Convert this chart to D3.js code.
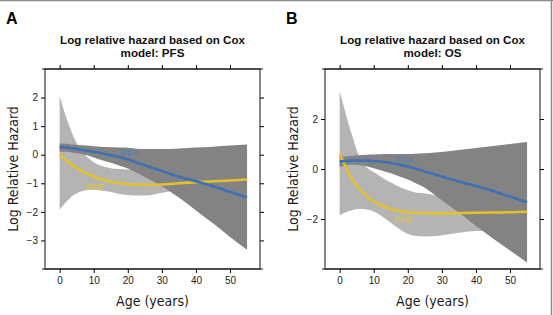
<!DOCTYPE html>
<html>
<head>
<meta charset="utf-8">
<script src="https://cdn.jsdelivr.net/npm/d3@7"></script>
<style>
  body { margin: 0; background: #fff; }
  svg { display: block; }
  .tick text { font-family: "Liberation Sans", Arial, sans-serif; font-size: 10px; fill: #222; }
</style>
</head>
<body>
<svg id="chart" width="553" height="315"></svg>
<script>
const ages = [0, 1, 2, 3, 4, 5, 6, 7, 8, 10, 12, 14, 16, 18, 20, 22, 25, 28, 30, 35, 40, 45, 50, 55];

// panel A: PFS
const pfaA   = [0.27, 0.26, 0.25, 0.23, 0.22, 0.2, 0.18, 0.16, 0.14, 0.1, 0.06, 0.01, -0.04, -0.1, -0.17, -0.25, -0.37, -0.49, -0.57, -0.77, -0.93, -1.1, -1.3, -1.5];
const pfaHiA = [0.4, 0.39, 0.38, 0.37, 0.36, 0.35, 0.34, 0.33, 0.32, 0.3, 0.28, 0.27, 0.26, 0.25, 0.24, 0.22, 0.2, 0.2, 0.2, 0.22, 0.25, 0.28, 0.32, 0.36];
const pfaLoA = [0.1, 0.1, 0.1, 0.09, 0.07, 0.05, 0.03, 0.01, -0.02, -0.1, -0.18, -0.25, -0.32, -0.4, -0.48, -0.6, -0.78, -0.97, -1.1, -1.5, -1.95, -2.4, -2.88, -3.33];
const pfbA   = [0.02, -0.1, -0.2, -0.3, -0.39, -0.47, -0.54, -0.61, -0.66, -0.76, -0.85, -0.92, -0.97, -1.0, -1.03, -1.04, -1.05, -1.05, -1.04, -1.0, -0.96, -0.93, -0.9, -0.87];
const pfbHiA = [2.05, 1.65, 1.28, 0.95, 0.65, 0.4, 0.2, 0.04, -0.08, -0.26, -0.38, -0.45, -0.49, -0.5, -0.52, -0.56, -0.6, -0.63, -0.65, -0.65, -0.6, -0.55, -0.48, -0.4];
const pfbLoA = [-1.93, -1.78, -1.64, -1.52, -1.42, -1.35, -1.3, -1.26, -1.24, -1.23, -1.25, -1.28, -1.33, -1.38, -1.41, -1.43, -1.43, -1.38, -1.33, -1.25, -1.2, -1.18, -1.18, -1.2];

// panel B: OS
const pfaB   = [0.3, 0.31, 0.32, 0.33, 0.34, 0.34, 0.34, 0.34, 0.33, 0.32, 0.3, 0.27, 0.22, 0.16, 0.1, 0.02, -0.1, -0.22, -0.3, -0.5, -0.68, -0.88, -1.1, -1.33];
const pfaHiB = [0.5, 0.5, 0.51, 0.52, 0.53, 0.54, 0.55, 0.56, 0.57, 0.58, 0.59, 0.6, 0.6, 0.6, 0.6, 0.61, 0.63, 0.66, 0.68, 0.76, 0.84, 0.92, 1.0, 1.08];
const pfaLoB = [0.08, 0.12, 0.15, 0.17, 0.17, 0.17, 0.15, 0.13, 0.1, 0.03, -0.05, -0.13, -0.22, -0.32, -0.42, -0.55, -0.75, -1.05, -1.25, -1.75, -2.28, -2.78, -3.26, -3.74];
const pfbB   = [0.6, 0.3, 0.0, -0.25, -0.46, -0.65, -0.83, -0.98, -1.1, -1.3, -1.44, -1.55, -1.63, -1.69, -1.73, -1.75, -1.76, -1.77, -1.77, -1.76, -1.75, -1.74, -1.73, -1.71];
const pfbHiB = [3.13, 2.6, 2.1, 1.62, 1.2, 0.75, 0.45, 0.2, 0.05, -0.12, -0.3, -0.47, -0.61, -0.74, -0.85, -0.93, -0.98, -1.05, -1.1, -1.25, -1.35, -1.4, -1.42, -1.4];
const pfbLoB = [-1.85, -1.78, -1.72, -1.67, -1.63, -1.6, -1.6, -1.6, -1.62, -1.7, -1.85, -2.05, -2.25, -2.45, -2.6, -2.67, -2.7, -2.68, -2.65, -2.55, -2.48, -2.5, -2.6, -2.75];

const xTicks = [0, 10, 20, 30, 40, 50];
const yTicksA = [-3, -2, -1, 0, 1, 2];
const yTicksB = [-2, 0, 2];

const panels = [
  { letter: "A", sub: "model: PFS", left: 45, yDomain: [-4, 3], yTicks: yTicksA,
    pfa: pfaA, pfaHi: pfaHiA, pfaLo: pfaLoA, pfb: pfbA, pfbHi: pfbHiA, pfbLo: pfbLoA,
    pfaLab: [20.6, -0.05], pfbLab: [10.3, -1.23] },
  { letter: "B", sub: "model: OS", left: 325, yDomain: [-4, 4], yTicks: yTicksB,
    pfa: pfaB, pfaHi: pfaHiB, pfaLo: pfaLoB, pfb: pfbB, pfbHi: pfbHiB, pfbLo: pfbLoB,
    pfaLab: [19.2, 0.24], pfbLab: [18.6, -2.16] }
];

const svg = d3.select("#chart");
const narrow = '"Liberation Sans Narrow", "DejaVu Sans Condensed", Arial, sans-serif';

// figure frame, only top and right edges show
svg.append("line").attr("x1", 0).attr("x2", 553).attr("y1", 0.5).attr("y2", 0.5)
  .attr("stroke", "#8a8a8a").attr("stroke-width", 1.5);
svg.append("line").attr("x1", 551.5).attr("x2", 551.5).attr("y1", 0).attr("y2", 315)
  .attr("stroke", "#8a8a8a").attr("stroke-width", 1.5);

const boxW = 215, boxTop = 69, boxBottom = 269;

panels.forEach(p => {
  const x = d3.scaleLinear().domain([-4.3, 58.8]).range([p.left, p.left + boxW]);
  const y = d3.scaleLinear().domain(p.yDomain).range([boxBottom, boxTop]);
  const g = svg.append("g");
  const cx = p.left + boxW / 2;

  g.append("text").attr("x", p.left - 39).attr("y", 24)
    .attr("font-family", "Liberation Sans, Arial, sans-serif")
    .attr("font-weight", "bold").attr("font-size", 16).text(p.letter);

  const title = g.append("text").attr("text-anchor", "middle")
    .attr("font-family", "Liberation Sans, Arial, sans-serif")
    .attr("font-weight", "bold").attr("font-size", 11.6).attr("fill", "#111");
  title.append("tspan").attr("x", cx).attr("y", 44).text("Log relative hazard based on Cox");
  title.append("tspan").attr("x", cx).attr("y", 57).text(p.sub);

  const band = (hi, lo) => d3.area()
    .x((d, i) => x(ages[i]))
    .y0((d, i) => y(lo[i]))
    .y1((d, i) => y(hi[i]))
    .curve(d3.curveMonotoneX)(ages);
  const line = vals => d3.line()
    .x((d, i) => x(ages[i]))
    .y((d, i) => y(vals[i]))
    .curve(d3.curveMonotoneX)(ages);

  g.append("path").attr("d", band(p.pfbHi, p.pfbLo)).attr("fill", "#b4b4b4");
  g.append("path").attr("d", band(p.pfaHi, p.pfaLo)).attr("fill", "#838383");

  g.append("path").attr("d", line(p.pfb)).attr("fill", "none")
    .attr("stroke", "#e3c12c").attr("stroke-width", 2.6);
  g.append("path").attr("d", line(p.pfa)).attr("fill", "none")
    .attr("stroke", "#3d70b5").attr("stroke-width", 2.6);

  g.append("text").attr("x", x(p.pfaLab[0])).attr("y", y(p.pfaLab[1]))
    .attr("text-anchor", "middle").attr("font-family", "Liberation Sans, Arial, sans-serif")
    .attr("font-size", 9).attr("fill", "#4a7cc0").text("PFA");
  g.append("text").attr("x", x(p.pfbLab[0])).attr("y", y(p.pfbLab[1]))
    .attr("text-anchor", "middle").attr("font-family", "Liberation Sans, Arial, sans-serif")
    .attr("font-size", 9).attr("fill", "#e0c340").text("PFB");

  // axes on all four sides, ticks pointing out
  const fmt = d => String(d).replace("-", "\u2212");
  g.append("g").attr("transform", `translate(0,${boxBottom})`)
    .call(d3.axisBottom(x).tickValues(xTicks).tickSize(4).tickSizeOuter(0).tickPadding(4).tickFormat(fmt))
    .call(a => a.select(".domain").remove());
  g.append("g").attr("transform", `translate(0,${boxTop})`)
    .call(d3.axisTop(x).tickValues(xTicks).tickSize(4).tickSizeOuter(0).tickFormat(""))
    .call(a => a.select(".domain").remove());
  g.append("g").attr("transform", `translate(${p.left},0)`)
    .call(d3.axisLeft(y).tickValues(p.yTicks).tickSize(4).tickSizeOuter(0).tickPadding(3).tickFormat(fmt))
    .call(a => a.select(".domain").remove());
  g.append("g").attr("transform", `translate(${p.left + boxW},0)`)
    .call(d3.axisRight(y).tickValues(p.yTicks).tickSize(4).tickSizeOuter(0).tickFormat(""))
    .call(a => a.select(".domain").remove());

  g.append("rect").attr("x", p.left).attr("y", boxTop).attr("width", boxW).attr("height", boxBottom - boxTop)
    .attr("fill", "none").attr("stroke", "#111").attr("stroke-width", 1);
  g.append("line").attr("x1", p.left - 3).attr("x2", p.left + boxW + 3)
    .attr("y1", boxBottom).attr("y2", boxBottom).attr("stroke", "#111");
  g.append("line").attr("x1", p.left - 3).attr("x2", p.left + boxW + 3)
    .attr("y1", boxTop).attr("y2", boxTop).attr("stroke", "#111");

  g.append("text").attr("x", cx).attr("y", 306).attr("text-anchor", "middle")
    .attr("font-family", narrow).attr("font-size", 14).attr("fill", "#1a1a1a").text("Age (years)");
  g.append("text").attr("transform", `translate(${p.left - 27},${(boxTop + boxBottom) / 2}) rotate(-90)`)
    .attr("text-anchor", "middle").attr("font-family", narrow).attr("font-size", 14)
    .attr("fill", "#1a1a1a").text("Log Relative Hazard");
});
</script>
</body>
</html>
